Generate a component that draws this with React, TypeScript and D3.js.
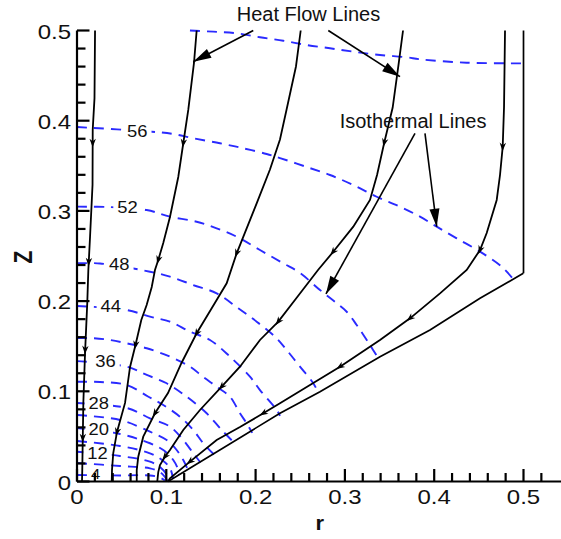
import React from 'react';
import * as d3 from 'd3';

type P = [number, number];

// ---------- heat flow lines (r, z), from top to bottom ----------
const flow1: P[] = [[0.0202,0.5],[0.0196,0.425],[0.0176,0.39],[0.0174,0.329],[0.0146,0.271],[0.0127,0.2345],[0.0115,0.198],[0.009,0.1425],[0.0071,0.087],[0.0059,0.0127],[0.0056,0]];
const flow2: P[] = [[0.134,0.5],[0.131,0.464],[0.1246,0.412],[0.119,0.375],[0.1134,0.3376],[0.1041,0.2933],[0.0966,0.2644],[0.091,0.2456],[0.0873,0.2345],[0.0837,0.2157],[0.078,0.1957],[0.072,0.179],[0.0655,0.1513],[0.0594,0.127],[0.0538,0.0871],[0.0448,0.055],[0.0406,0.0316],[0.0392,0.0127],[0.0389,0]];
const flow3: P[] = [[0.2505,0.5],[0.2452,0.4601],[0.2347,0.4124],[0.2273,0.3792],[0.2161,0.3459],[0.2012,0.3084],[0.1788,0.253],[0.1676,0.2197],[0.1564,0.2012],[0.134,0.1643],[0.117,0.1314],[0.1019,0.0981],[0.0873,0.0756],[0.0742,0.0497],[0.0686,0.0275],[0.0669,0.0127],[0.0669,0]];
const flow4: P[] = [[0.3651,0.5],[0.3598,0.4601],[0.3535,0.4146],[0.3468,0.3869],[0.3441,0.3758],[0.336,0.3398],[0.3281,0.3121],[0.3094,0.2825],[0.2867,0.2544],[0.2699,0.2345],[0.2475,0.2057],[0.2254,0.1772],[0.2049,0.1569],[0.1825,0.1273],[0.162,0.1051],[0.1377,0.0793],[0.119,0.0571],[0.1041,0.0349],[0.0985,0.0275],[0.0929,0.0183],[0.091,0.0105],[0.0899,0]];
const flow5: P[] = [[0.4793,0.5],[0.4782,0.4152],[0.4767,0.3709],[0.4737,0.3398],[0.47,0.3121],[0.4588,0.2755],[0.4513,0.2567],[0.4364,0.2345],[0.4065,0.2086],[0.3729,0.1809],[0.3393,0.1569],[0.2945,0.1273],[0.2609,0.107],[0.2273,0.0867],[0.2086,0.0756],[0.1825,0.0604],[0.1564,0.046],[0.1265,0.022],[0.1041,0.0035],[0.1019,0]];
const flowLines: P[][] = [flow1, flow2, flow3, flow4, flow5];
// z-positions of the direction arrows on each flow line
const flowArrowZ: number[][] = [
  [0.3753, 0.2433, 0.1458, 0.0482],
  [0.375, 0.2456, 0.1513, 0.055],
  [0.253, 0.1643, 0.0756],
  [0.3758, 0.2544, 0.1772, 0.1051, 0.0275],
  [0.3709, 0.2567, 0.1809, 0.1273, 0.0756, 0.022],
];

// ---------- domain boundary ----------
const boundarySlant: P[] = [[0.1019,0],[0.2273,0.0756],[0.2721,0.0996],[0.3393,0.1384],[0.3953,0.168],[0.4513,0.2031],[0.4998,0.2308]];
const boundaryRight: P[] = [[0.5,0.2308],[0.5,0.5]];

// ---------- isotherms ----------
const isoLevels = [60, 56, 52, 48, 44, 40, 36, 32, 28, 24, 20, 16, 12, 8, 4];
const iso60: P[] = [[0.1265,0.5],[0.1526,0.4987],[0.1788,0.4969],[0.2049,0.4925],[0.231,0.4887],[0.2572,0.4839],[0.2833,0.4803],[0.3094,0.4765],[0.3393,0.4728],[0.3692,0.4703],[0.3841,0.4681],[0.4364,0.4643],[0.4994,0.4636]];
const iso56: P[] = [[0,0.393],[0.084,0.3878],[0.1078,0.3853],[0.1302,0.3805],[0.1601,0.375],[0.1862,0.3694],[0.2124,0.3631],[0.2273,0.3586],[0.2572,0.3487],[0.2833,0.3398],[0.3094,0.3287],[0.3356,0.3157],[0.3617,0.3047],[0.3841,0.2936],[0.4028,0.2825],[0.4252,0.2696],[0.4513,0.2548],[0.4756,0.2381],[0.4871,0.226]];
const iso52: P[] = [[0,0.3047],[0.037,0.3042],[0.078,0.301],[0.1041,0.2936],[0.134,0.288],[0.1564,0.2807],[0.1788,0.2714],[0.2049,0.2566],[0.231,0.2419],[0.2497,0.2312],[0.2721,0.2123],[0.2908,0.1976],[0.302,0.1882],[0.3132,0.1735],[0.3281,0.1513],[0.3374,0.1366]];
const iso48: P[] = [[0,0.2419],[0.0258,0.2417],[0.0817,0.2326],[0.1041,0.2271],[0.1302,0.2178],[0.1564,0.2086],[0.1806,0.192],[0.2012,0.1772],[0.2217,0.1605],[0.2348,0.1458],[0.2497,0.1273],[0.2646,0.1089],[0.2702,0.0985]];
const iso44: P[] = [[0,0.1946],[0.0557,0.1901],[0.0817,0.1827],[0.1041,0.1772],[0.1265,0.1661],[0.1489,0.1569],[0.1713,0.1384],[0.1937,0.1162],[0.2049,0.1014],[0.2236,0.0793],[0.2273,0.0728]];
const iso40: P[] = [[0,0.1591],[0.0183,0.1588],[0.037,0.1569],[0.0557,0.1532],[0.0781,0.1477],[0.1041,0.1384],[0.1265,0.1273],[0.141,0.1162],[0.1564,0.1051],[0.1713,0.094],[0.1825,0.0756],[0.19,0.0645],[0.1962,0.0539]];
const iso36: P[] = [[0,0.1335],[0.0557,0.1273],[0.0781,0.1181],[0.1004,0.1089],[0.1228,0.094],[0.1452,0.0756],[0.162,0.0571],[0.1758,0.0432]];
const iso32: P[] = [[0,0.1106],[0.0258,0.1103],[0.0557,0.107],[0.08,0.094],[0.0966,0.0848],[0.1153,0.0718],[0.1302,0.0571],[0.1414,0.0424],[0.1534,0.0299]];
const iso28: P[] = [[0,0.087],[0.0557,0.0815],[0.0817,0.0701],[0.1041,0.0608],[0.119,0.046],[0.1302,0.0313],[0.1383,0.0211]];
const iso24: P[] = [[0,0.0737],[0.0482,0.0682],[0.0817,0.0552],[0.1004,0.046],[0.1116,0.0349],[0.119,0.0238],[0.124,0.0133]];
const iso20: P[] = [[0,0.0593],[0.0482,0.0527],[0.0817,0.0424],[0.0966,0.0349],[0.1078,0.0238],[0.1134,0.0127],[0.1142,0.0072]];
const iso16: P[] = [[0,0.0449],[0.0482,0.0394],[0.0817,0.0313],[0.0952,0.0238],[0.1041,0.015],[0.1075,0.0032]];
const iso12: P[] = [[0,0.033],[0.0482,0.0283],[0.0817,0.022],[0.0929,0.0161],[0.1008,0.0072],[0.1036,0.0011]];
const iso8: P[] = [[0,0.0205],[0.0482,0.0172],[0.0817,0.0146],[0.0929,0.0105],[0.0985,0.005],[0.1013,0.0006]];
const iso4: P[] = [[0,0.0072],[0.0482,0.0067],[0.0817,0.0067],[0.0929,0.0044],[0.0985,0.0011]];
const isotherms: P[][] = [iso60, iso56, iso52, iso48, iso44, iso40, iso36, iso32, iso28, iso24, iso20, iso16, iso12, iso8, iso4];

// contour labels: text, r, z (label centres)
const isoLabelText = ['56', '52', '48', '44', '36', '28', '20', '12', '4'];
const isoLabelR = [0.0675, 0.0566, 0.0474, 0.0379, 0.0319, 0.0244, 0.0244, 0.023, 0.0208];
const isoLabelZ = [0.3888, 0.3038, 0.2406, 0.1938, 0.1329, 0.087, 0.0582, 0.0312, 0.0091];

// ---------- annotations (r, z) ----------
const heatText = 'Heat Flow Lines';
const heatTextPos: P = [0.2592, 0.5109];
const heatPointers: [P, P][] = [
  [[0.1974, 0.5], [0.1302, 0.4654]],
  [[0.2814, 0.5], [0.3617, 0.4488]],
];
const isoText = 'Isothermal Lines';
const isoTextPos: P = [0.3763, 0.3922];
const isoPointers: [P, P][] = [
  [[0.3785, 0.386], [0.2788, 0.2079]],
  [[0.3897, 0.386], [0.4028, 0.2825]],
];

// ---------- axes ----------
const xMajorTicks = [0, 0.1, 0.2, 0.3, 0.4, 0.5];
const xTickLabels = ['0', '0.1', '0.2', '0.3', '0.4', '0.5'];
const xMinorTicks = [0.02,0.04,0.06,0.08,0.12,0.14,0.16,0.18,0.22,0.24,0.26,0.28,0.32,0.34,0.36,0.38,0.42,0.44,0.46,0.48,0.52];
const yMajorTicks = [0, 0.1, 0.2, 0.3, 0.4, 0.5];
const yTickLabels = ['0', '0.1', '0.2', '0.3', '0.4', '0.5'];
const yMinorTicks = [0.02,0.04,0.06,0.08,0.12,0.14,0.16,0.18,0.22,0.24,0.26,0.28,0.32,0.34,0.36,0.38,0.42,0.44,0.46,0.48];
const xAxisEnd = 0.542;
const xTitle = 'r';
const yTitle = 'Z';

const W = 561, H = 539;
const BLUE = '#2a2aff';
const FONT = '"Liberation Sans", Arial, Helvetica, sans-serif';

export default function App() {
  const x = d3.scaleLinear().domain([0, 0.5]).range([77, 523.5]);
  const y = d3.scaleLinear().domain([0, 0.5]).range([481.5, 30.5]);

  const smooth = d3.line<P>().x(d => x(d[0])).y(d => y(d[1])).curve(d3.curveCatmullRom.alpha(0.5));
  const straight = d3.line<P>().x(d => x(d[0])).y(d => y(d[1]));

  const arrowsOn = (pts: P[], zs: number[]) => {
    const out: string[] = [];
    zs.forEach(z => {
      for (let i = 0; i < pts.length - 1; i++) {
        const a = pts[i], b = pts[i + 1];
        if ((a[1] >= z && b[1] <= z) && a[1] !== b[1]) {
          const t = (a[1] - z) / (a[1] - b[1]);
          const ax = x(a[0]), ay = y(a[1]), bx = x(b[0]), by = y(b[1]);
          const px = ax + (bx - ax) * t, py = ay + (by - ay) * t;
          const L = Math.hypot(bx - ax, by - ay);
          const ux = (bx - ax) / L, uy = (by - ay) / L;
          const len = 8.5, half = 3.2;
          const tx = px + ux * len / 2, ty = py + uy * len / 2;
          const cx = px - ux * len / 2, cy = py - uy * len / 2;
          out.push(`M${tx},${ty}L${cx - uy * half},${cy + ux * half}L${px - ux * len * 0.2},${py - uy * len * 0.2}L${cx + uy * half},${cy - ux * half}Z`);
          break;
        }
      }
    });
    return out;
  };

  const pointerHead = (s: P, e: P, len: number, half: number) => {
    const x0 = x(s[0]), y0 = y(s[1]), x1 = x(e[0]), y1 = y(e[1]);
    const L = Math.hypot(x1 - x0, y1 - y0);
    const ux = (x1 - x0) / L, uy = (y1 - y0) / L;
    const bx = x1 - ux * len, by = y1 - uy * len;
    return `M${x1},${y1}L${bx - uy * half},${by + ux * half}L${bx + uy * half},${by - ux * half}Z`;
  };

  return (
    <svg width={W} height={H} viewBox={`0 0 ${W} ${H}`}
      style={{ position: 'absolute', left: 0, top: 0, background: '#fff', fontFamily: FONT }}>
      <rect x={0} y={0} width={W} height={H} fill="#fff" />

      {/* isotherms */}
      <g fill="none" stroke={BLUE} strokeWidth={1.9} strokeDasharray="10,7">
        {isotherms.map((pts, i) => (
          <path key={isoLevels[i]} d={smooth(pts) || ''} />
        ))}
      </g>

      {/* isotherm labels */}
      <g>
        {isoLabelText.map((t, i) => {
          const fs = t.length === 1 ? 14.5 : 16;
          const cx = x(isoLabelR[i]), cy = y(isoLabelZ[i]);
          const w = t.length * 0.556 * fs * 1.15 + 8;
          return (
            <g key={t}>
              <rect x={cx - w / 2} y={cy - fs * 0.42} width={w} height={fs * 0.84} fill="#fff" />
              <text transform={`translate(${cx},${cy + fs * 0.36}) scale(1.15,1)`} textAnchor="middle"
                fontSize={fs} fill="#111">{t}</text>
            </g>
          );
        })}
      </g>

      {/* boundary */}
      <g fill="none" stroke="#000" strokeWidth={1.7}>
        <path d={straight(boundarySlant) || ''} />
        <path d={straight(boundaryRight) || ''} />
      </g>

      {/* flow lines */}
      <g fill="none" stroke="#000" strokeWidth={1.8}>
        {flowLines.map((pts, i) => <path key={i} d={straight(pts) || ''} />)}
      </g>
      <g fill="#000">
        {flowLines.map((pts, i) => arrowsOn(pts, flowArrowZ[i]).map((d, j) => <path key={`${i}-${j}`} d={d} />))}
      </g>

      {/* axes */}
      <g stroke="#000" strokeWidth={2.2} fill="none">
        <line x1={x(0)} y1={y(0)} x2={x(xAxisEnd)} y2={y(0)} />
        <line x1={x(0)} y1={y(0)} x2={x(0)} y2={y(0.5)} />
        {xMajorTicks.map(v => <line key={'xM' + v} x1={x(v)} x2={x(v)} y1={y(0)} y2={y(0) - 12.5} />)}
        {xMinorTicks.map(v => <line key={'xm' + v} x1={x(v)} x2={x(v)} y1={y(0)} y2={y(0) - 8.5} />)}
        {yMajorTicks.map(v => <line key={'yM' + v} x1={x(0)} x2={x(0) + 12.5} y1={y(v)} y2={y(v)} />)}
        {yMinorTicks.map(v => <line key={'ym' + v} x1={x(0)} x2={x(0) + 8.5} y1={y(v)} y2={y(v)} />)}
      </g>
      <g fontSize={20} fill="#111">
        {xMajorTicks.map((v, i) => (
          <text key={'xl' + v} transform={`translate(${x(v)},503.5) scale(1.2,1)`} textAnchor="middle">{xTickLabels[i]}</text>
        ))}
        {yMajorTicks.map((v, i) => (
          <text key={'yl' + v} transform={`translate(71,${y(v) + 8}) scale(1.2,1)`} textAnchor="end">{yTickLabels[i]}</text>
        ))}
      </g>
      <text transform={`translate(${x(0.2718)},530) scale(1.1,1)`} textAnchor="middle" fontSize={20} fontWeight="bold" fill="#111">{xTitle}</text>
      <text transform={`translate(23,257) scale(1.2,1) rotate(-90)`} textAnchor="middle" dominantBaseline="central"
        fontSize={21} fontWeight="bold" fill="#111">{yTitle}</text>

      {/* annotations */}
      <text x={x(heatTextPos[0])} y={y(heatTextPos[1])} textAnchor="middle" fontSize={20} fill="#111">{heatText}</text>
      <text x={x(isoTextPos[0])} y={y(isoTextPos[1])} textAnchor="middle" fontSize={20} fill="#111">{isoText}</text>
      <g stroke="#000" strokeWidth={1.6}>
        {[...heatPointers, ...isoPointers].map((p, i) => (
          <line key={'pl' + i} x1={x(p[0][0])} y1={y(p[0][1])} x2={x(p[1][0])} y2={y(p[1][1])} />
        ))}
      </g>
      <g fill="#000">
        {[...heatPointers, ...isoPointers].map((p, i) => (
          <path key={'ph' + i} d={pointerHead(p[0], p[1], 18, 5)} />
        ))}
      </g>
    </svg>
  );
}
